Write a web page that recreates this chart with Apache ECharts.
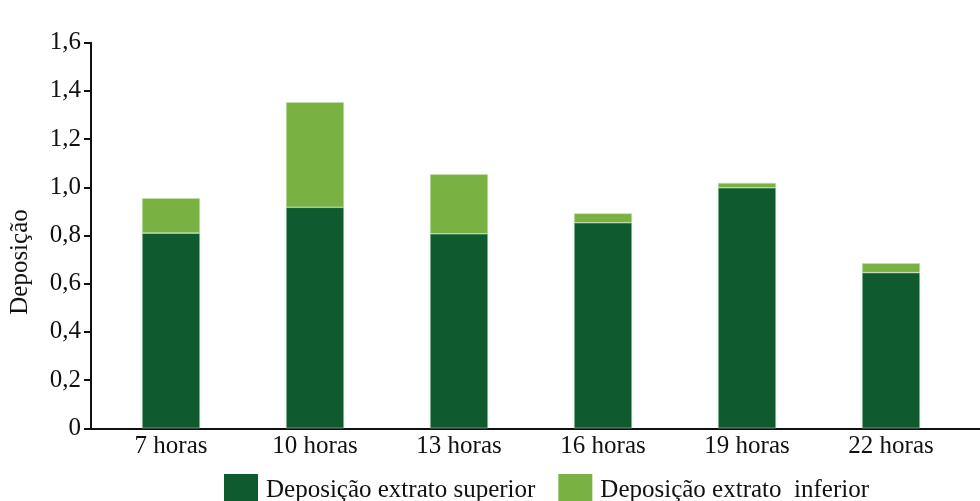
<!DOCTYPE html>
<html>
<head>
<meta charset="utf-8">
<script src="https://cdn.jsdelivr.net/npm/echarts@6/dist/echarts.min.js"></script>
<style>html,body{margin:0;padding:0;background:#fff}#c{width:980px;height:501px}</style>
</head>
<body>
<div id="c"></div>
<script>
const categories = ['7 horas', '10 horas', '13 horas', '16 horas', '19 horas', '22 horas'];
const superior = [0.81, 0.917, 0.807, 0.853, 0.998, 0.646];
const inferior = [0.145, 0.436, 0.247, 0.039, 0.02, 0.039];
const yTicks = [0, 0.2, 0.4, 0.6, 0.8, 1.0, 1.2, 1.4, 1.6];
const seriesNames = ['Deposição extrato superior', 'Deposição extrato  inferior'];
const yTitle = 'Deposição';

const font = 'Liberation Serif, Times New Roman, serif';
const fs = 25;
const chart = echarts.init(document.getElementById('c'));
chart.setOption({
  animation: false,
  textStyle: { fontFamily: font },
  grid: [
    { left: 99, right: 17, top: 42.7, bottom: 72.7 },
    { left: 91, right: 0, top: 42.7, bottom: 72.7 }
  ],
  graphic: [{
    type: 'text', x: 20, y: 262, rotation: Math.PI / 2,
    style: { text: yTitle, font: fs + 'px ' + font, fill: '#111', align: 'center', verticalAlign: 'middle' }
  }],
  legend: {
    top: 469, left: 219,
    itemWidth: 34, itemHeight: 32, itemGap: 23,
    icon: 'rect',
    itemStyle: { borderWidth: 0 },
    textStyle: { fontFamily: font, fontSize: fs, color: '#111', padding: [0, 0, 0, 3] },
    data: seriesNames
  },
  xAxis: [
    {
      type: 'category', gridIndex: 0, data: categories,
      axisLine: { show: false },
      axisTick: { show: false },
      axisLabel: { fontFamily: font, fontSize: fs, color: '#111', margin: 6 }
    },
    {
      type: 'value', gridIndex: 1, min: 0, max: 1,
      axisLine: { show: true, onZero: false, lineStyle: { color: '#111', width: 2 } },
      axisTick: { show: false }, axisLabel: { show: false }, splitLine: { show: false }
    }
  ],
  yAxis: [
    {
      type: 'value', gridIndex: 0, min: 0, max: 1.6, interval: 0.2, offset: 8,
      axisLine: { show: true, lineStyle: { color: '#111', width: 2 } },
      axisTick: { show: true, length: 7, lineStyle: { color: '#111', width: 2 } },
      axisLabel: {
        fontFamily: font, fontSize: fs, color: '#111', margin: 10,
        formatter: v => {
          const t = yTicks.find(x => Math.abs(x - v) < 1e-9);
          const val = t === undefined ? v : t;
          return val === 0 ? '0' : val.toFixed(1).replace('.', ',');
        }
      },
      splitLine: { show: false }
    },
    {
      type: 'value', gridIndex: 1, show: false, min: 0, max: 1
    }
  ],
  series: [
    {
      name: seriesNames[0], type: 'bar', stack: 's', data: superior,
      xAxisIndex: 0, yAxisIndex: 0,
      barWidth: 58,
      itemStyle: { color: '#0f5a2f', borderColor: '#a9c9ae', borderWidth: 0.6 }
    },
    {
      name: seriesNames[1], type: 'bar', stack: 's', data: inferior,
      xAxisIndex: 0, yAxisIndex: 0,
      barWidth: 58,
      itemStyle: { color: '#79b143', borderColor: '#c8dfb4', borderWidth: 0.6 }
    }
  ]
});
</script>
</body>
</html>
